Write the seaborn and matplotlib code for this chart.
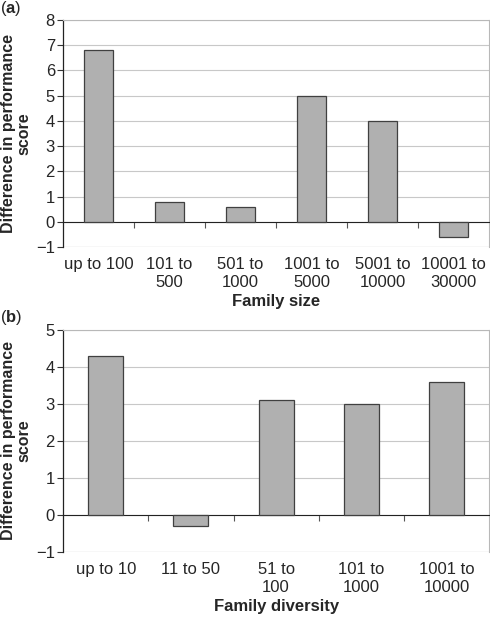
import numpy as np
import matplotlib
matplotlib.use("Agg")
import matplotlib.pyplot as plt
import seaborn as sns

size_cats = ["up to 100", "101 to\n500", "501 to\n1000", "1001 to\n5000", "5001 to\n10000", "10001 to\n30000"]
size_vals = [6.8, 0.8, 0.6, 5.0, 4.0, -0.6]

div_cats = ["up to 10", "11 to 50", "51 to\n100", "101 to\n1000", "1001 to\n10000"]
div_vals = [4.3, -0.3, 3.1, 3.0, 3.6]

sns.set_style("white")
plt.rcParams["font.family"] = ["Liberation Sans", "DejaVu Sans"]
plt.rcParams["mathtext.fontset"] = "custom"
plt.rcParams["mathtext.rm"] = "Liberation Sans"
plt.rcParams["mathtext.bf"] = "Liberation Sans:bold"

fig = plt.figure(figsize=(4.9, 6.21), dpi=100)
ax_a = fig.add_axes([0.129, 0.602, 0.869, 0.366])
ax_b = fig.add_axes([0.129, 0.111, 0.869, 0.358])


def draw_panel(ax, cats, vals, ymax, xlabel):
    sns.barplot(x=cats, y=vals, ax=ax, color="#b0b0b0", edgecolor="#404040",
                linewidth=0.9, width=0.41, saturation=1, zorder=3)
    n = len(cats)
    ax.set_xlim(-0.5, n - 0.5)
    ax.set_ylim(-1, ymax)
    ax.set_yticks(range(-1, ymax + 1))
    ax.set_yticklabels([str(v).replace("-", "\u2212") for v in range(-1, ymax + 1)], fontsize=12)
    ax.yaxis.grid(True, color="#c8c8c8", linewidth=0.8, zorder=0)
    ax.tick_params(axis="y", direction="out", length=4, width=0.8, color="#333333", pad=2, left=True)

    # x axis sits at zero with ticks between categories
    ax.spines["bottom"].set_position(("data", 0))
    ax.spines["bottom"].set_color("#222222")
    ax.set_xticks(np.arange(0.5, n - 0.5), [""] * (n - 1))
    ax.tick_params(axis="x", direction="out", length=4, width=0.8, color="#555555", bottom=True)
    for s in ["top", "right"]:
        ax.spines[s].set_color("#b8b8b8")
        ax.spines[s].set_linewidth(0.8)
    ax.spines["left"].set_color("#222222")
    ax.spines["left"].set_linewidth(0.9)
    ax.axhline(-1, color="#b8b8b8", linewidth=0.8, zorder=1)

    sec = ax.secondary_xaxis(0)
    sec.set_xticks(range(n), cats, fontsize=12, linespacing=1.25)
    sec.tick_params(length=0, pad=7)
    sec.spines["bottom"].set_visible(False)
    sec.set_xlabel(xlabel, fontsize=12, fontweight="bold", labelpad=3)

    ax.set_ylabel("Difference in performance\nscore", fontsize=11.5, fontweight="bold",
                  linespacing=1.05, labelpad=3)
    ax.set_xlabel("")


draw_panel(ax_a, size_cats, size_vals, 8, "Family size")
draw_panel(ax_b, div_cats, div_vals, 5, "Family diversity")

fig.text(0.0, 0.987, r"($\mathbf{a}$)", fontsize=12, va="center", ha="left")
fig.text(0.0, 0.488, r"($\mathbf{b}$)", fontsize=12, va="center", ha="left")

fig.savefig("out.png", dpi=100)
